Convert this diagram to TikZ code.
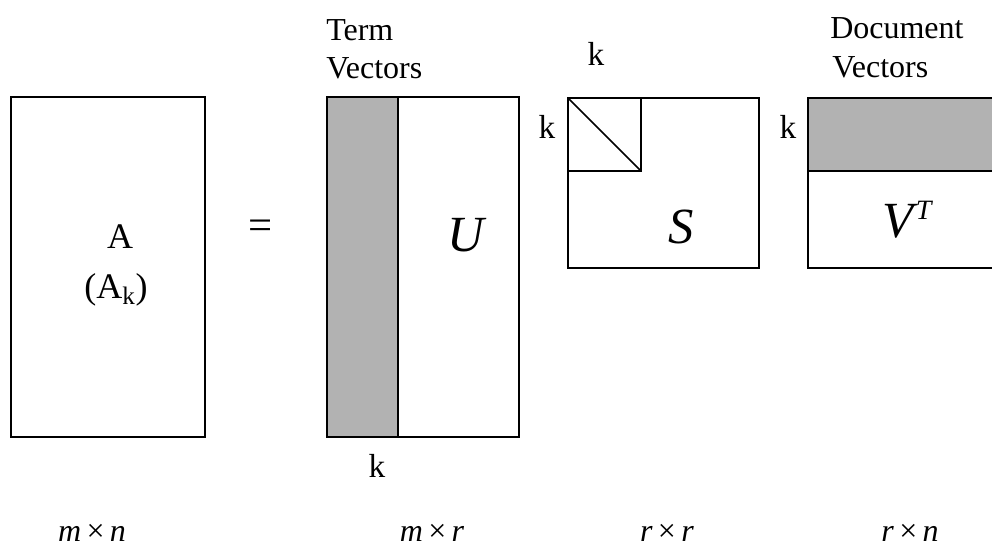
\documentclass[tikz,border=0pt]{standalone}
\usepackage{fontspec}
\setmainfont{Liberation Serif}
\usetikzlibrary{positioning}

\begin{document}
\begin{tikzpicture}[
    x=0.75pt,y=-0.75pt,
    mat/.style={draw,line width=1.1pt},
    band/.style={fill=black!30},
    head/.style={anchor=base west,inner sep=0pt,font=\fontsize{24}{28}\selectfont},
    klbl/.style={anchor=base,inner sep=0pt,font=\fontsize{25}{28}\selectfont},
    letter/.style={anchor=base,inner sep=0pt,font=\fontsize{38}{40}\selectfont\itshape},
    dims/.style={anchor=base,inner sep=0pt,font=\fontsize{24}{26}\selectfont}
]
\clip (0,0) rectangle (992,550);

% A
\draw[mat] (11,97) rectangle (205,437);
\node[anchor=base,inner sep=0pt,font=\fontsize{27}{30}\selectfont] (a) at (120,248) {A};
\node[anchor=base,inner sep=0pt,font=\fontsize{27}{30}\selectfont] (ak) at (116,298) {(A\textsubscript{k})};
\node[inner sep=0pt,font=\fontsize{32}{34}\selectfont] (eq) at (261,230) {=};

% U
\fill[band] (327,97) rectangle (398,437);
\draw[mat] (327,97) rectangle (519,437);
\draw[mat] (398,97) -- (398,437);
\node[head] (term) at (326,40) {Term};
\node[head] (termvec) at (326,78) {Vectors};
\node[letter] (u) at (466,251) {U};
\node[klbl] (ku) at (377,477) {k};

% S
\draw[mat] (568,98) rectangle (759,268);
\draw[mat] (568,98) rectangle (641,171);
\draw[mat] (568,98) -- (641,171);
\node[klbl] (ktop) at (596,65) {k};
\node[klbl] (kleft) at (547,138) {k};
\node[letter] (s) at (681,243) {S};

% V^T
\fill[band] (808,98) rectangle (1000,171);
\draw[mat] (1000,98) -- (808,98) -- (808,268) -- (1000,268);
\draw[mat] (808,171) -- (1000,171);
\node[head] (doc) at (830,38) {Document};
\node[head] (docvec) at (832,77) {Vectors};
\node[klbl] (kv) at (788,138) {k};
\node[letter,anchor=base west] (vt) at (882,237) {V\hspace{2pt}\raisebox{13pt}{\fontsize{21}{22}\selectfont T}};

% sizes
\node[dims] (dmn) at (92,541) {\textit{m}\,×\,\textit{n}};
\node[dims] (dmr) at (432,541) {\textit{m}\,×\,\textit{r}};
\node[dims] (drr) at (667,541) {\textit{r}\,×\,\textit{r}};
\node[dims] (drn) at (910,541) {\textit{r}\,×\,\textit{n}};
\end{tikzpicture}
\end{document}
